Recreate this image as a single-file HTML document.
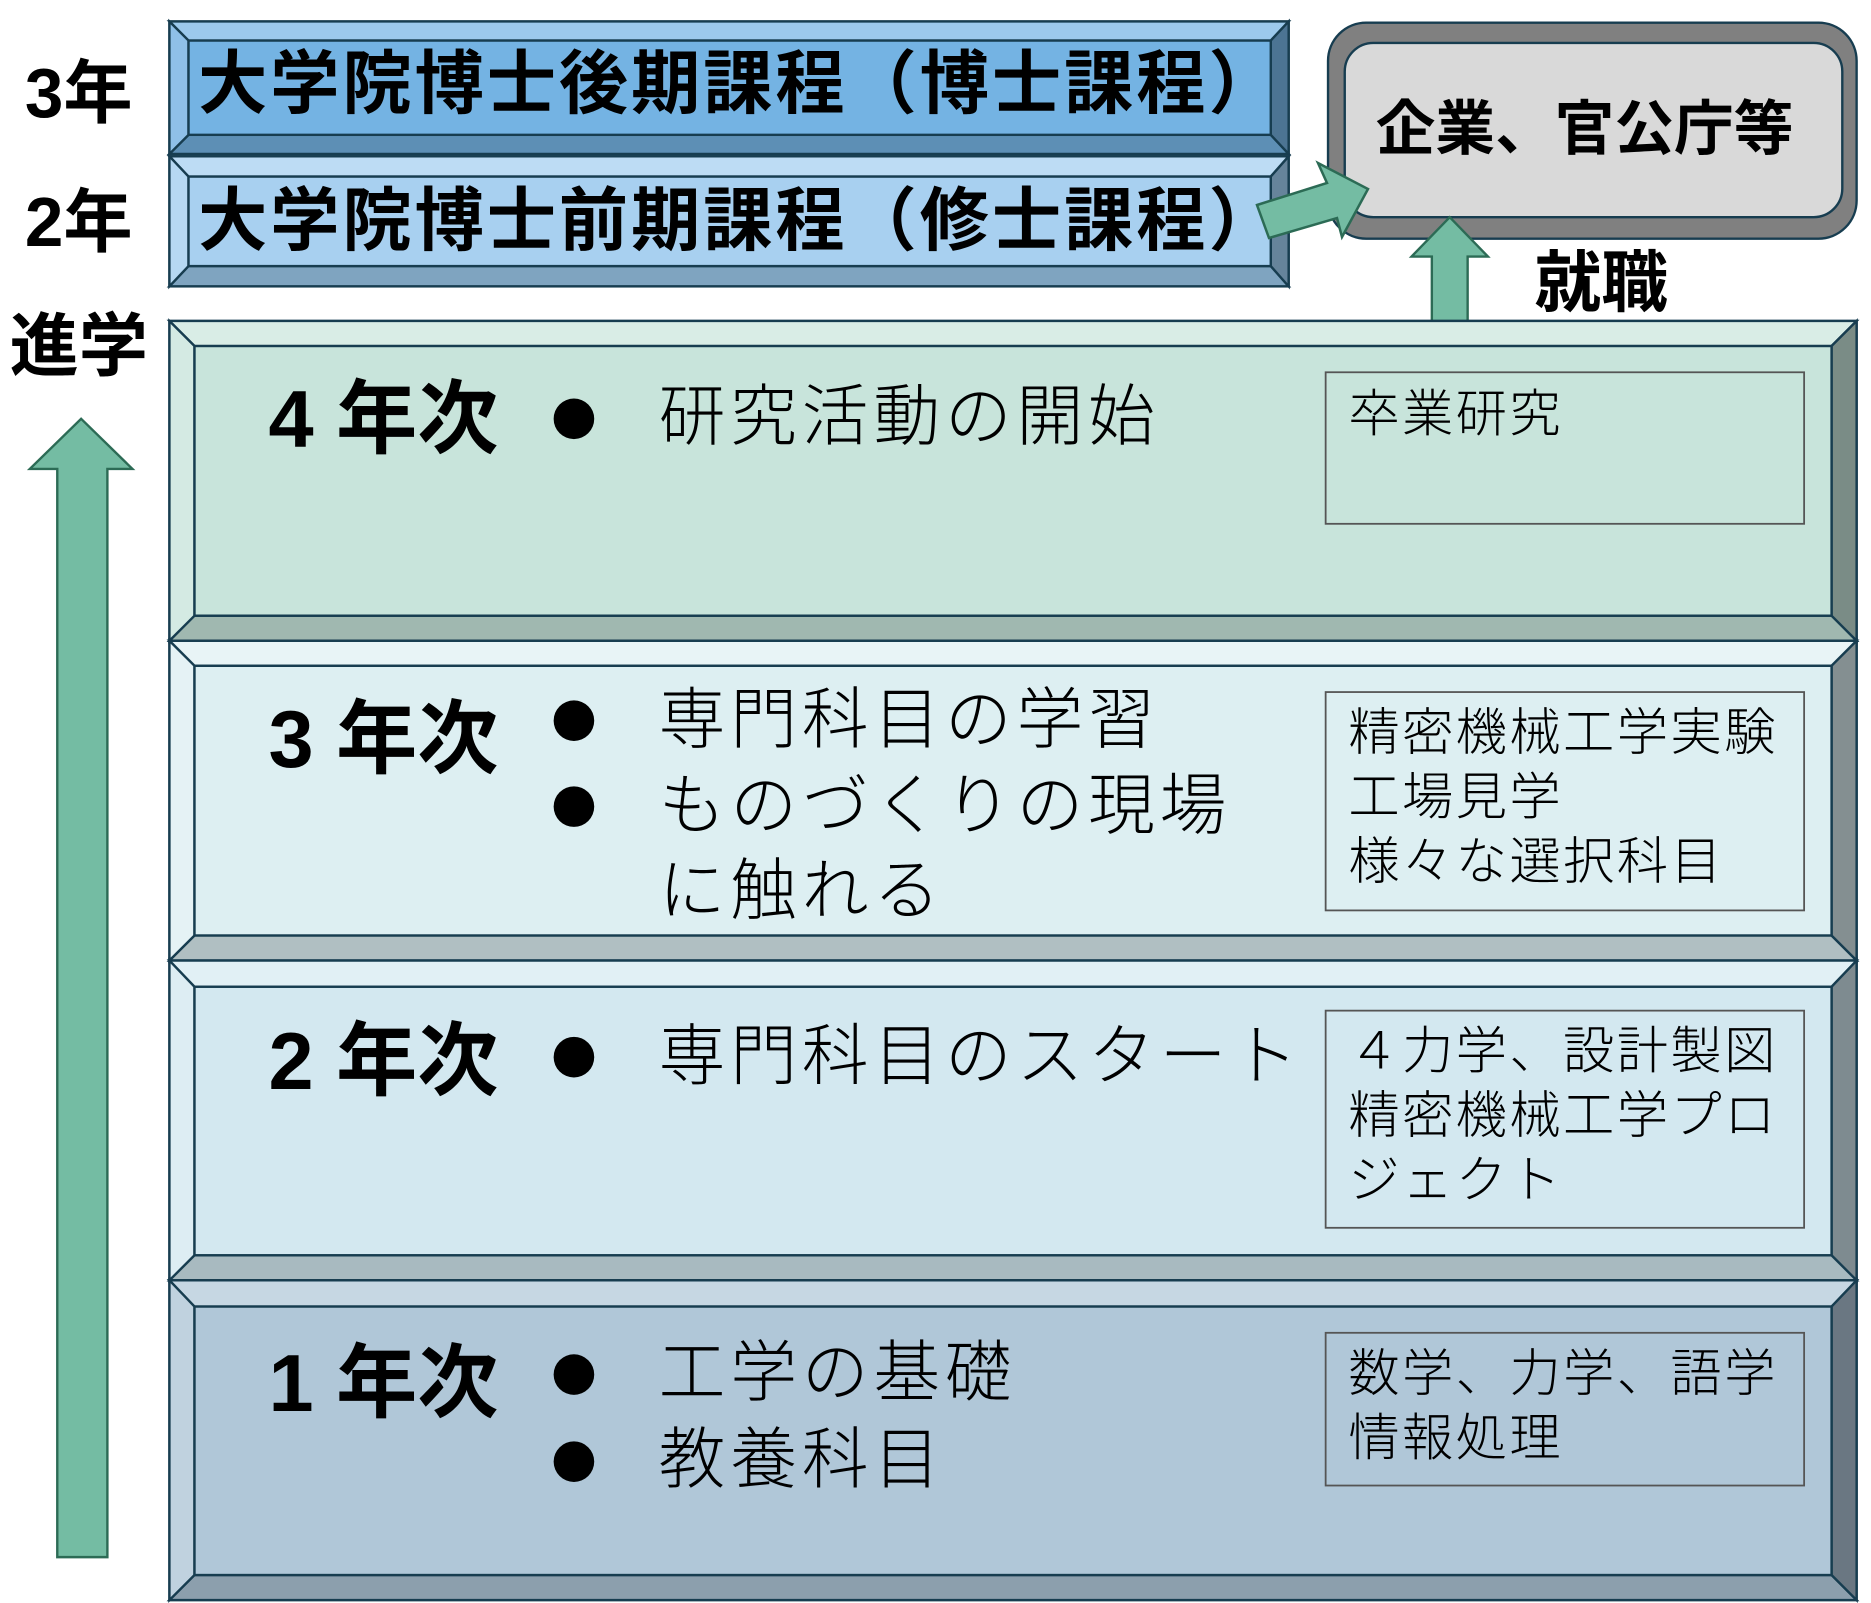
<!DOCTYPE html>
<html><head><meta charset="utf-8"><style>
html,body{margin:0;padding:0;background:#fff;}
svg{display:block;}
text{font-family:"Liberation Sans","Noto Sans CJK JP",sans-serif;}
.b{font-weight:bold;}
.l{font-weight:300;}
</style></head><body>
<svg width="1871" height="1603" viewBox="0 0 1871 1603" xmlns="http://www.w3.org/2000/svg">
<g transform="scale(1.1932)" stroke-linejoin="miter">
<text x="66" y="78" class="b" font-size="58" text-anchor="middle" dominant-baseline="central">3年</text>
<text x="66" y="186" class="b" font-size="58" text-anchor="middle" dominant-baseline="central">2年</text>
<text x="66" y="290" class="b" font-size="58" text-anchor="middle" dominant-baseline="central">進学</text>
<polygon points="68,351 111,393 90,393 90,1305 48,1305 48,393 25,393" fill="#74bca3" stroke="#2c6b55" stroke-width="2"/>

<g stroke="#173d50" stroke-width="2">
<rect x="142" y="18" width="938" height="111" fill="#74b3e3"/>
<polygon points="142,18 1080,18 1065,34 158,34" fill="#9cc9ec"/>
<polygon points="142,129 1080,129 1065,113 158,113" fill="#5d8fb5"/>
<polygon points="142,18 158,34 158,113 142,129" fill="#8fc0e8"/>
<polygon points="1080,18 1065,34 1065,113 1080,129" fill="#4c7493"/>
<rect x="158" y="34" width="907" height="79" fill="#74b3e3"/>
</g>
<text x="166" y="70" class="b" font-size="58" dominant-baseline="central" letter-spacing="2.5">大学院博士後期課程（博士課程）</text>

<g stroke="#173d50" stroke-width="2">
<rect x="142" y="131" width="938" height="109" fill="#a8d0f0"/>
<polygon points="142,131 1080,131 1065,148 158,148" fill="#bddcf4"/>
<polygon points="142,240 1080,240 1065,223 158,223" fill="#7fa4c0"/>
<polygon points="142,131 158,148 158,223 142,240" fill="#b6d8f2"/>
<polygon points="1080,131 1065,148 1065,223 1080,240" fill="#66849b"/>
<rect x="158" y="148" width="907" height="75" fill="#a8d0f0"/>
</g>
<text x="166" y="185" class="b" font-size="58" dominant-baseline="central" letter-spacing="2.5">大学院博士前期課程（修士課程）</text>

<rect x="1113" y="19" width="443" height="181" rx="32" fill="#808080" stroke="#173d50" stroke-width="2"/>
<rect x="1127" y="36" width="417" height="146" rx="24" fill="#d9d9d9" stroke="#173d50" stroke-width="2"/>
<text x="1328" y="108" class="b" font-size="50" text-anchor="middle" dominant-baseline="central">企業、官公庁等</text>

<polygon points="1215,182 1247,215 1230,215 1230,273 1200,273 1200,215 1183,215" fill="#74bca3" stroke="#2c6b55" stroke-width="2"/>
<text x="1342" y="238" class="b" font-size="56" text-anchor="middle" dominant-baseline="central">就職</text>

<g stroke="#173d50" stroke-width="2">
 <rect x="142" y="269" width="1414" height="268" fill="#c8e4db"/>
 <polygon points="142,269 1556,269 1535,290 163,290" fill="#d9ede6"/>
 <polygon points="142,537 1556,537 1535,516 163,516" fill="#a0b8b0"/>
 <polygon points="142,269 163,290 163,516 142,537" fill="#d4eae3"/>
 <polygon points="1556,269 1535,290 1535,516 1556,537" fill="#7a8c86"/>
 <rect x="163" y="290" width="1372" height="226" fill="#c8e4db"/>
 <rect x="142" y="537" width="1414" height="268" fill="#ddeff2"/>
 <polygon points="142,537 1556,537 1535,558 163,558" fill="#e8f4f6"/>
 <polygon points="142,805 1556,805 1535,784 163,784" fill="#b0bfc2"/>
 <polygon points="142,537 163,558 163,784 142,805" fill="#e5f2f5"/>
 <polygon points="1556,537 1535,558 1535,784 1556,805" fill="#848f91"/>
 <rect x="163" y="558" width="1372" height="226" fill="#ddeff2"/>
 <rect x="142" y="805" width="1414" height="268" fill="#d3e8f0"/>
 <polygon points="142,805 1556,805 1535,827 163,827" fill="#e1f0f5"/>
 <polygon points="142,1073 1556,1073 1535,1052 163,1052" fill="#a8bac0"/>
 <polygon points="142,805 163,827 163,1052 142,1073" fill="#ddedf3"/>
 <polygon points="1556,805 1535,827 1535,1052 1556,1073" fill="#7e8b90"/>
 <rect x="163" y="827" width="1372" height="225" fill="#d3e8f0"/>
 <rect x="142" y="1073" width="1414" height="268" fill="#b0c7d8"/>
 <polygon points="142,1073 1556,1073 1535,1095 163,1095" fill="#c6d7e3"/>
 <polygon points="142,1341 1556,1341 1535,1320 163,1320" fill="#8c9fad"/>
 <polygon points="142,1073 163,1095 163,1320 142,1341" fill="#c0d2df"/>
 <polygon points="1556,1073 1535,1095 1535,1320 1556,1341" fill="#6a7782"/>
 <rect x="163" y="1095" width="1372" height="225" fill="#b0c7d8"/>
</g>

<g fill="none" stroke="#555" stroke-width="1.5">
 <rect x="1111" y="312" width="401" height="127"/>
 <rect x="1111" y="580" width="401" height="183"/>
 <rect x="1111" y="847" width="401" height="182"/>
 <rect x="1111" y="1117" width="401" height="128"/>
</g>

<g font-size="68" dominant-baseline="central">
 <text x="225" y="352" class="b">4 年次</text>
 <text x="225" y="620" class="b">3 年次</text>
 <text x="225" y="890" class="b">2 年次</text>
 <text x="225" y="1160" class="b">1 年次</text>
</g>
<g fill="#000">
 <circle cx="481" cy="351" r="17"/>
 <circle cx="481" cy="604" r="17"/>
 <circle cx="481" cy="676" r="17"/>
 <circle cx="481" cy="886" r="17"/>
 <circle cx="481" cy="1152" r="17"/>
 <circle cx="481" cy="1225" r="17"/>
</g>
<g font-size="56" class="l" dominant-baseline="central" letter-spacing="4">
 <text x="552" y="350">研究活動の開始</text>
 <text x="552" y="604">専門科目の学習</text>
 <text x="552" y="676">ものづくりの現場</text>
 <text x="552" y="747">に触れる</text>
 <text x="552" y="886">専門科目のスタート</text>
 <text x="552" y="1151">工学の基礎</text>
 <text x="552" y="1224">教養科目</text>
</g>
<g font-size="43" class="l" dominant-baseline="central" letter-spacing="2">
 <text x="1130" y="347">卒業研究</text>
 <text x="1130" y="614">精密機械工学実験</text>
 <text x="1130" y="668">工場見学</text>
 <text x="1130" y="722">様々な選択科目</text>
 <text x="1130" y="881">４力学、設計製図</text>
 <text x="1130" y="935">精密機械工学プロ</text>
 <text x="1130" y="989">ジェクト</text>
 <text x="1130" y="1151">数学、力学、語学</text>
 <text x="1130" y="1205">情報処理</text>
</g>
</g>
<polygon points="1257,205 1327,183 1318,163 1368,189 1342,237 1337,218 1269,238" fill="#74bca3" stroke="#2c6b55" stroke-width="2.5"/>
</svg>
</body></html>
